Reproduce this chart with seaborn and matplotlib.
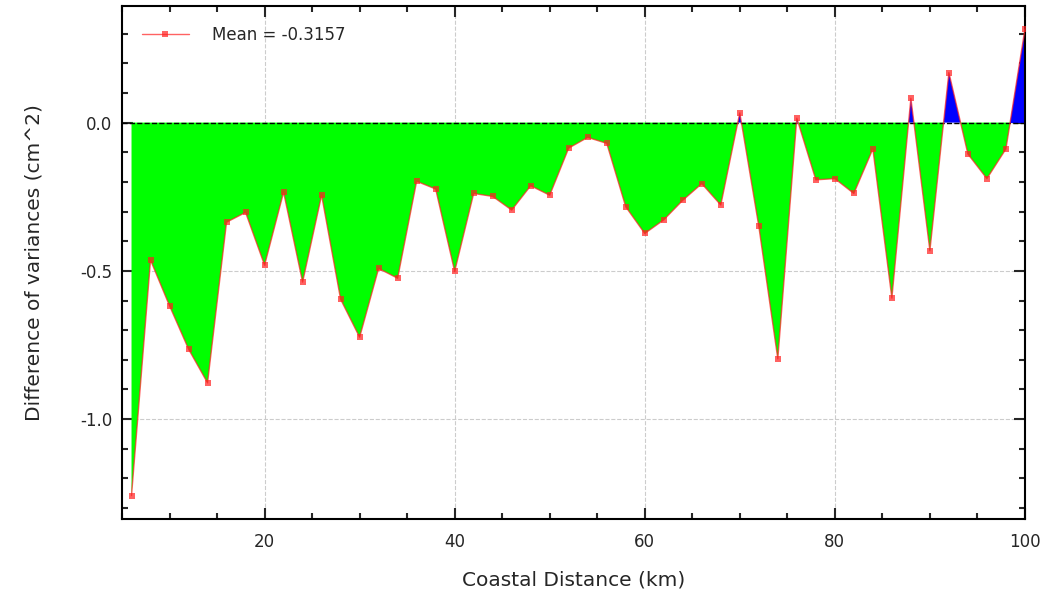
import numpy as np
import pandas as pd
import matplotlib
matplotlib.use("Agg")
import matplotlib.pyplot as plt
import seaborn as sns
from matplotlib.ticker import MultipleLocator

# distancia ao longo da costa (km) e diferenca de variancias (cm^2)
distance_km = list(range(6, 101, 2))
var_diff = [
    -1.258, -0.464, -0.618, -0.764, -0.878,
    -0.336, -0.303, -0.481, -0.235, -0.538,
    -0.245, -0.596, -0.724, -0.492, -0.525,
    -0.198, -0.224, -0.502, -0.239, -0.249,
    -0.295, -0.213, -0.245, -0.086, -0.050,
    -0.070, -0.284, -0.374, -0.328, -0.262,
    -0.206, -0.278, 0.033, -0.350, -0.797,
    0.015, -0.193, -0.189, -0.239, -0.089,
    -0.592, 0.082, -0.432, 0.169, -0.106,
    -0.189, -0.089, 0.315,
]
mean_label = "Mean = -0.3157"

df = pd.DataFrame({"dist": distance_km, "diff": var_diff})

sns.set_style("ticks")
plt.rcParams["font.family"] = ["DejaVu Sans"]
plt.rcParams["axes.unicode_minus"] = False

fig, ax = plt.subplots(figsize=(10.61, 5.91), dpi=100)
fig.subplots_adjust(left=0.115, right=0.966, top=0.99, bottom=0.122)

x = df["dist"].to_numpy()
y = df["diff"].to_numpy()

# preenchimento: verde abaixo de zero, azul acima
ax.fill_between(x, 0, y, where=y < 0, interpolate=True, color="#00ff00", lw=0, zorder=1)
ax.fill_between(x, 0, y, where=y > 0, interpolate=True, color="#0000ff", lw=0, zorder=1)

sns.lineplot(data=df, x="dist", y="diff", ax=ax, color="#ff2020", alpha=0.7,
             marker="s", markersize=4, markeredgewidth=0, lw=1.0,
             label=mean_label, zorder=3)

ax.axhline(0, color="black", ls="--", lw=1.0, zorder=2)

ax.set_xlim(5, 100)
ax.xaxis.set_major_locator(MultipleLocator(20))
ax.xaxis.set_minor_locator(MultipleLocator(5))
ax.yaxis.set_major_locator(MultipleLocator(0.5))
ax.yaxis.set_minor_locator(MultipleLocator(0.1))

ax.grid(True, which="major", ls="--", color="#cccccc", lw=0.8, zorder=0)
ax.set_axisbelow(True)

ax.tick_params(which="both", direction="in", top=True, right=True, width=1.5, labelsize=12)
ax.tick_params(which="major", length=8)
ax.tick_params(which="minor", length=4.5)
ax.tick_params(axis="x", which="major", pad=10)
ax.tick_params(axis="y", which="major", pad=7)
for sp in ax.spines.values():
    sp.set_linewidth(1.5)
    sp.set_color("black")

ax.set_xlabel("Coastal Distance (km)", fontsize=14.5, labelpad=14)
ax.set_ylabel("Difference of variances (cm^2)", fontsize=14.5, labelpad=26)

ax.legend(loc="upper left", frameon=False, fontsize=12, handlelength=2.8,
          handletextpad=1.4, borderaxespad=0.8)

fig.savefig("out.png", dpi=100)
